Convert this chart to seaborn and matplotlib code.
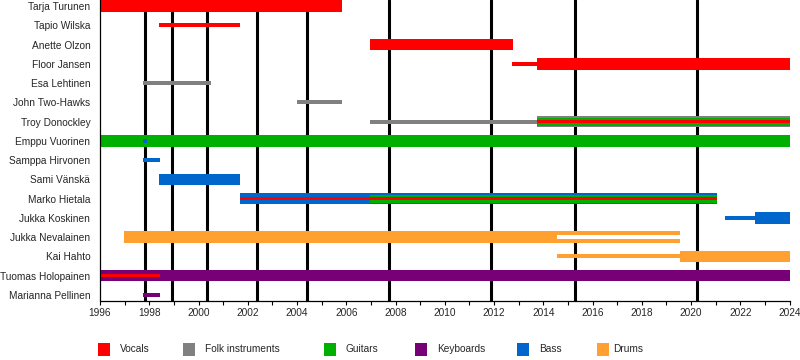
import matplotlib
matplotlib.use("Agg")
import matplotlib.pyplot as plt
from matplotlib.patches import Rectangle
from matplotlib.ticker import MultipleLocator
import seaborn as sns
import pandas as pd

# ---------------- data ----------------
members = [
    "Tarja Turunen", "Tapio Wilska", "Anette Olzon", "Floor Jansen",
    "Esa Lehtinen", "John Two-Hawks", "Troy Donockley", "Emppu Vuorinen",
    "Samppa Hirvonen", "Sami Vänskä", "Marko Hietala", "Jukka Koskinen",
    "Jukka Nevalainen", "Kai Hahto", "Tuomas Holopainen", "Marianna Pellinen",
]
roles = ["Vocals", "Folk instruments", "Guitars", "Keyboards", "Bass", "Drums"]
role_colors = ["#FF0000", "#808080", "#00B000", "#770077", "#0066CC", "#FFA030"]

# album release dates (vertical lines)
album_years = [1997.83, 1998.92, 2000.34, 2002.37, 2004.40, 2007.73, 2011.87, 2015.28, 2020.23]

# membership segments
seg_member = [
    "Tarja Turunen", "Tapio Wilska", "Anette Olzon", "Floor Jansen", "Floor Jansen",
    "Esa Lehtinen", "John Two-Hawks", "Troy Donockley", "Troy Donockley",
    "Troy Donockley", "Troy Donockley",
    "Emppu Vuorinen", "Emppu Vuorinen",
    "Samppa Hirvonen", "Sami Vänskä",
    "Marko Hietala", "Marko Hietala", "Marko Hietala",
    "Jukka Koskinen", "Jukka Koskinen",
    "Jukka Nevalainen", "Jukka Nevalainen",
    "Kai Hahto", "Kai Hahto",
    "Tuomas Holopainen", "Tuomas Holopainen",
    "Marianna Pellinen",
]
seg_role = [
    "Vocals", "Vocals", "Vocals", "Vocals", "Vocals",
    "Folk instruments", "Folk instruments", "Folk instruments", "Folk instruments",
    "Guitars", "Vocals",
    "Guitars", "Bass",
    "Bass", "Bass",
    "Bass", "Guitars", "Vocals",
    "Bass", "Bass",
    "Drums", "Inactive",
    "Drums", "Drums",
    "Keyboards", "Vocals",
    "Keyboards",
]
seg_start = [
    1996.00, 1998.40, 2006.97, 2012.73, 2013.75,
    1997.75, 2004.00, 2006.97, 2013.75,
    2013.75, 2013.75,
    1996.00, 1997.75,
    1997.75, 1998.40,
    2001.69, 2006.97, 2001.69,
    2021.38, 2022.60,
    1996.97, 2014.56,
    2014.56, 2019.56,
    1996.00, 1996.00,
    1997.75,
]
seg_end = [
    2005.83, 2001.69, 2012.76, 2013.75, 2024.00,
    2000.51, 2005.83, 2013.75, 2024.00,
    2024.00, 2024.00,
    2024.00, 1997.91,
    1998.44, 2001.69,
    2021.05, 2021.05, 2021.05,
    2022.60, 2024.00,
    2019.56, 2019.56,
    2019.56, 2024.00,
    2024.00, 1998.44,
    1998.44,
]
seg_kind = [
    "main", "touring", "main", "touring", "main",
    "touring", "touring", "touring", "main",
    "second", "inner",
    "main", "inner",
    "touring", "main",
    "main", "second", "inner",
    "touring", "main",
    "main", "inactive",
    "touring", "main",
    "main", "inner",
    "touring",
]

# ---------------- styling ----------------
sns.set_style("ticks")
plt.rcParams["font.family"] = ["Liberation Sans", "DejaVu Sans"]
FS = 7.3

kind_order = ["main", "second", "inner", "touring", "inactive"]
kind_height = {"main": 0.6, "second": 0.42, "inner": 0.19, "touring": 0.2, "inactive": 0.19}
color_map = dict(zip(roles, role_colors))
color_map["Inactive"] = "white"

df = pd.DataFrame({
    "member": seg_member, "role": seg_role, "start": seg_start,
    "end": seg_end, "kind": seg_kind,
})
df["span"] = df["end"] - df["start"]
df["idx"] = df["member"].map({m: i for i, m in enumerate(members)})

fig = plt.figure(figsize=(8, 3.6), dpi=100)
ax = fig.add_axes([100 / 800, 1 - 300.5 / 360, 689.5 / 800, 300.5 / 360])

for yr in album_years:
    ax.axvline(yr, color="black", lw=2.2, zorder=1)

for kind in kind_order:
    for role in roles + ["Inactive"]:
        sub = df[(df["kind"] == kind) & (df["role"] == role)].sort_values("idx")
        if sub.empty:
            continue
        sns.barplot(
            data=sub, x="span", y="member", order=members, orient="h",
            color=color_map[role], saturation=1, width=kind_height[kind],
            errorbar=None, left=sub["start"].values, linewidth=0,
            zorder=3, ax=ax,
        )

ax.set_xlim(1996, 2024)
ax.set_ylim(15.29, -0.32)
ax.set_xlabel("")
ax.set_ylabel("")
ax.set_yticks(range(len(members)))
ax.set_yticklabels(members, fontsize=FS)
ax.tick_params(axis="y", length=0, pad=7)
ax.xaxis.set_major_locator(MultipleLocator(2))
ax.xaxis.set_minor_locator(MultipleLocator(1))
ax.tick_params(axis="x", which="major", length=3.2, width=0.8, color="black",
               labelsize=FS, pad=2.5, direction="out")
ax.tick_params(axis="x", which="minor", length=2.8, width=0.8, color="black",
               direction="out")
for lab in ax.get_xticklabels():
    lab.set_fontsize(FS)
sns.despine(ax=ax, top=True, right=True)
for s in ("left", "bottom"):
    ax.spines[s].set_color("black")
    ax.spines[s].set_linewidth(0.9)
    ax.spines[s].set_zorder(5)
ax.grid(False)

# legend
leg_patch_x = [98, 183, 324, 415, 517, 597]
leg_text_x = [120, 205, 346, 437, 539, 613]
for role, c, px, tx in zip(roles, role_colors, leg_patch_x, leg_text_x):
    fig.add_artist(Rectangle((px / 800, 1 - 355.5 / 360), 12 / 800, 13 / 360,
                             transform=fig.transFigure, color=c, lw=0))
    fig.text(tx / 800, 1 - 349.5 / 360, role, fontsize=FS, va="center", ha="left")

fig.savefig("out.png", dpi=100)
